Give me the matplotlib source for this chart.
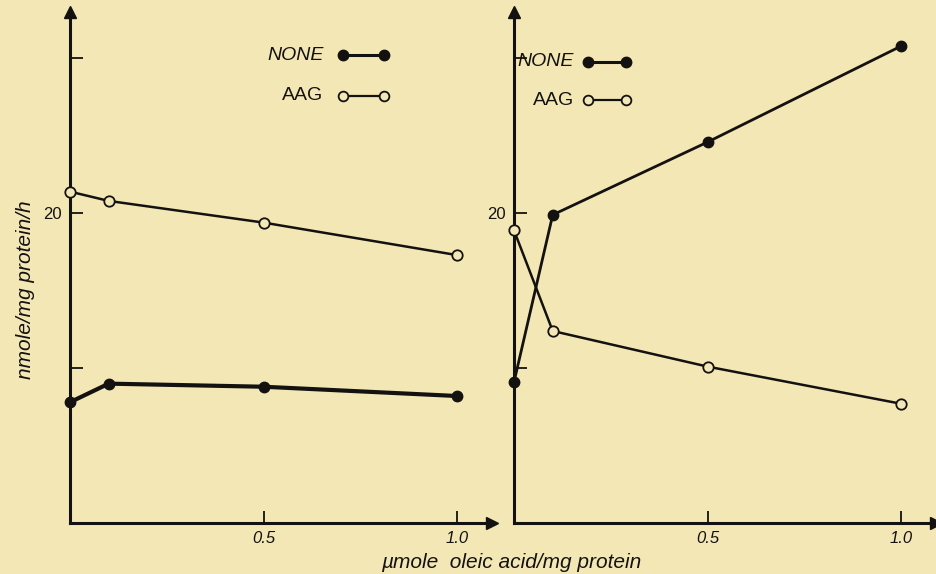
import matplotlib.pyplot as plt
from matplotlib.ticker import FixedLocator, FixedFormatter

# oleic acid added (umole/mg protein)
oleic = [0.0, 0.1, 0.5, 1.0]

# left panel (nmole/mg protein/h)
left_none = [7.8, 9.0, 8.8, 8.2]
left_aag = [21.4, 20.8, 19.4, 17.3]

# right panel
right_none = [9.1, 19.9, 24.6, 30.8]
right_aag = [18.9, 12.4, 10.1, 7.7]

y_ticks = [10, 20, 30]
y_labels = ['', '20', '']
x_ticks = [0.5, 1.0]
x_labels = ['0.5', '1.0']

BG = '#f4e7b6'
INK = '#141210'
FONT = ['Liberation Sans', 'DejaVu Sans']

plt.rcParams['font.family'] = FONT

fig = plt.figure(figsize=(9.36, 5.74), dpi=100, facecolor=BG)


def setup_axes(ax):
    ax.set_facecolor(BG)
    ax.patch.set_alpha(0)
    ax.set_xlim(0, 1.09)
    ax.set_ylim(0, 33.0)
    for side in ('top', 'right'):
        ax.spines[side].set_visible(False)
    for side in ('left', 'bottom'):
        ax.spines[side].set_linewidth(2.2)
        ax.spines[side].set_color(INK)
    # arrow heads at the axis ends
    ax.plot(1, 0, '>', color=INK, ms=9, transform=ax.transAxes, clip_on=False)
    ax.plot(0, 1, '^', color=INK, ms=9, transform=ax.transAxes, clip_on=False)
    ax.yaxis.set_major_locator(FixedLocator(y_ticks))
    ax.yaxis.set_major_formatter(FixedFormatter(y_labels))
    ax.xaxis.set_major_locator(FixedLocator(x_ticks))
    ax.xaxis.set_major_formatter(FixedFormatter(x_labels))
    ax.tick_params(direction='in', length=9, width=1.3, colors=INK,
                   labelsize=12, pad=6)
    for lab in ax.get_xticklabels():
        lab.set_style('italic')


def draw_series(ax, none_vals, aag_vals, none_lw):
    ax.plot(oleic, none_vals, '-o', color=INK, lw=none_lw, ms=7.5,
            mfc=INK, mec=INK, clip_on=False, zorder=3)
    ax.plot(oleic, aag_vals, '-o', color=INK, lw=1.8, ms=7.5,
            mfc=BG, mec=INK, mew=1.3, clip_on=False, zorder=3)


def draw_legend(ax, x_text, x0, x1, y_none, y_aag):
    ax.text(x_text, y_none, 'NONE', ha='right', va='center', fontsize=14,
            style='italic', color=INK)
    ax.plot([x0, x1], [y_none, y_none], '-o', color=INK, lw=2.2, ms=7.5,
            mfc=INK, mec=INK)
    ax.text(x_text, y_aag, 'AAG', ha='right', va='center', fontsize=14,
            color=INK)
    ax.plot([x0, x1], [y_aag, y_aag], '-o', color=INK, lw=1.6, ms=7,
            mfc=BG, mec=INK, mew=1.3)


ax1 = fig.add_axes([70 / 936, 51 / 574, 422 / 936, 511 / 574])
ax2 = fig.add_axes([514 / 936, 51 / 574, 422 / 936, 511 / 574])

for ax in (ax1, ax2):
    setup_axes(ax)

draw_series(ax1, left_none, left_aag, 3.0)
draw_series(ax2, right_none, right_aag, 2.0)

draw_legend(ax1, 0.655, 0.705, 0.81, 30.2, 27.6)
draw_legend(ax2, 0.155, 0.19, 0.29, 29.8, 27.3)

fig.text(26 / 936, 1 - 290 / 574, 'nmole/mg protein/h', rotation=90,
         ha='center', va='center', fontsize=15, style='italic', color=INK)
fig.text(511 / 936, 1 - 563 / 574, '\u00b5mole  oleic acid/mg protein',
         ha='center', va='center', fontsize=15, style='italic', color=INK)

fig.savefig('out.png', dpi=100, facecolor=BG)
